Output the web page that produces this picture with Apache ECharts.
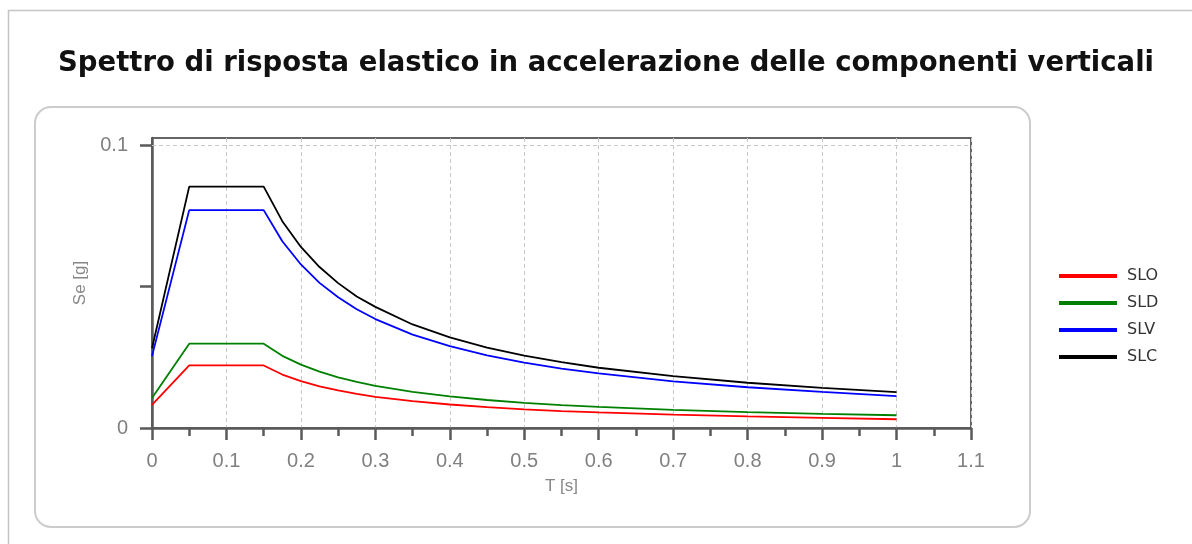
<!DOCTYPE html>
<html>
<head>
<meta charset="utf-8">
<script src="https://cdn.jsdelivr.net/npm/echarts@6/dist/echarts.min.js"></script>
<style>html,body{margin:0;padding:0;background:#fff;}#c{width:1192px;height:544px;}</style>
</head>
<body>
<div id="c"></div>
<script>
const T =   [0, 0.05, 0.15, 0.175, 0.2, 0.225, 0.25, 0.275, 0.3, 0.35, 0.4, 0.45, 0.5, 0.55, 0.6, 0.7, 0.8, 0.9, 1.0];
const SLO = [0.0082, 0.0221, 0.0221, 0.0189, 0.0166, 0.0147, 0.0133, 0.0121, 0.0110, 0.0095, 0.0083, 0.0074, 0.0066, 0.0060, 0.0055, 0.0047, 0.0041, 0.0036, 0.0031];
const SLD = [0.0106, 0.0298, 0.0298, 0.0255, 0.0224, 0.0199, 0.0179, 0.0163, 0.0149, 0.0128, 0.0112, 0.0099, 0.0089, 0.0081, 0.0075, 0.0064, 0.0056, 0.0050, 0.0045];
const SLV = [0.0254, 0.0770, 0.0770, 0.0660, 0.0578, 0.0513, 0.0462, 0.0420, 0.0385, 0.0330, 0.0289, 0.0257, 0.0231, 0.0210, 0.0193, 0.0165, 0.0144, 0.0128, 0.0113];
const SLC = [0.0282, 0.0853, 0.0853, 0.0731, 0.0640, 0.0569, 0.0512, 0.0465, 0.0428, 0.0366, 0.0320, 0.0284, 0.0256, 0.0233, 0.0213, 0.0183, 0.0160, 0.0142, 0.0127];
const seriesNames = ['SLO', 'SLD', 'SLV', 'SLC'];
const seriesColors = ['#ff0000', '#008000', '#0000ff', '#000000'];
const seriesData = [SLO, SLD, SLV, SLC];
const yTicks = [0, 0.05, 0.1];
const yLabels = [0, 0.1];

const chart = echarts.init(document.getElementById('c'), null, {renderer: 'canvas'});
const series = seriesNames.map((n, i) => ({
  name: n,
  type: 'line',
  data: T.map((t, j) => [t, seriesData[i][j]]),
  showSymbol: false,
  symbol: 'none',
  lineStyle: {color: seriesColors[i], width: 1.8},
  itemStyle: {color: seriesColors[i]},
  animation: false,
  z: 3
}));
series[0].markLine = {
  silent: true, symbol: 'none', label: {show: false},
  lineStyle: {color: '#c8c8c8', type: [4, 3], width: 1},
  data: [{yAxis: 0.1}],
  animation: false
};
chart.setOption({
  backgroundColor: '#fff',
  animation: false,
  graphic: [
    {type: 'rect', shape: {x: 8.5, y: 10.5, width: 1200, height: 560}, style: {fill: 'none', stroke: '#c4c4c4', lineWidth: 1.5}, z: -10},
    {type: 'rect', shape: {x: 35, y: 107, width: 995, height: 420, r: 16}, style: {fill: 'none', stroke: '#cccccc', lineWidth: 2}, z: -10}
  ],
  title: {
    text: 'Spettro di risposta elastico in accelerazione delle componenti verticali',
    left: 53, top: 45,
    textStyle: {fontFamily: 'DejaVu Sans', fontWeight: 'bold', fontSize: 27.5, color: '#111'}
  },
  legend: {
    orient: 'vertical', left: 1054, top: 263,
    icon: 'rect', itemWidth: 58, itemHeight: 4, itemGap: 11,
    textStyle: {fontFamily: 'DejaVu Sans', fontSize: 16, color: '#333', padding: [0, 0, 0, 5]},
    data: seriesNames
  },
  grid: {left: 152, right: 221, top: 138, bottom: 116, show: true, borderColor: '#333', borderWidth: 1.5, backgroundColor: 'transparent'},
  xAxis: {
    type: 'value', min: 0, max: 1.1, interval: 0.1,
    name: 'T [s]', nameLocation: 'middle', nameGap: 50,
    nameTextStyle: {fontFamily: 'Liberation Sans', fontSize: 17, color: '#888'},
    axisLine: {show: true, lineStyle: {color: '#5a5a5a', width: 2.5}},
    axisTick: {show: true, length: 12, lineStyle: {color: '#5a5a5a', width: 2.5}},
    minorTick: {show: true, splitNumber: 2, length: 8, lineStyle: {color: '#5a5a5a', width: 2.5}},
    axisLabel: {fontFamily: 'Liberation Sans', fontSize: 20, color: '#808080', margin: 23},
    splitLine: {show: true, lineStyle: {color: '#c8c8c8', type: [4, 3], width: 1}}
  },
  yAxis: {
    type: 'value', min: 0, max: 0.1025,
    name: 'Se [g]', nameLocation: 'middle', nameGap: 53, nameRotate: 90,
    nameTextStyle: {fontFamily: 'Liberation Sans', fontSize: 17, color: '#888'},
    axisLine: {show: true, lineStyle: {color: '#5a5a5a', width: 2.5}},
    axisTick: {show: true, length: 12, customValues: yTicks, lineStyle: {color: '#5a5a5a', width: 2.5}},
    axisLabel: {fontFamily: 'Liberation Sans', fontSize: 20, color: '#808080', margin: 24, customValues: yLabels},
    splitLine: {show: false}
  },
  series: series
});
</script>
</body>
</html>
